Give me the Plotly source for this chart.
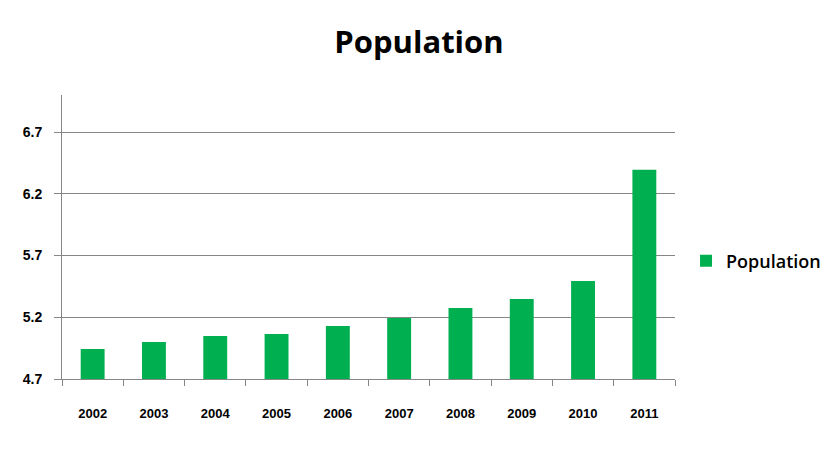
import plotly.graph_objects as go

years = ["2002", "2003", "2004", "2005", "2006", "2007", "2008", "2009", "2010", "2011"]
population = [4.943, 5.0, 5.048, 5.065, 5.13, 5.195, 5.275, 5.348, 5.494, 6.394]

fig = go.Figure()
fig.add_trace(go.Bar(x=years, y=population, name="Population",
                     marker=dict(color="#00B050", line=dict(width=0))))

fig.update_layout(
    width=838, height=451,
    paper_bgcolor="white", plot_bgcolor="white",
    margin=dict(l=54, r=171, t=87, b=80),
    bargap=0.61,
    title=dict(text="<b>Population</b>", x=0.5 - 8 / 838, xref="container", xanchor="center",
               y=1 - 34 / 451, yref="container", yanchor="middle",
               font=dict(family="Open Sans", size=31, color="black")),
    showlegend=True,
    legend=dict(x=1.018, xanchor="left", y=0.415, yanchor="middle",
                font=dict(family="Open Sans", size=18, color="black", weight=600),
                itemwidth=30),
    xaxis=dict(type="category", showline=True, linecolor="#868686", linewidth=1,
               ticks="outside", tickson="boundaries", ticklen=6, tickcolor="#868686",
               tickfont=dict(family="Liberation Sans", size=13, color="black", weight="bold"),
               ticklabelstandoff=22, showgrid=False),
    yaxis=dict(range=[4.7, 7.0], tick0=4.7, dtick=0.5, showline=True, linecolor="#868686",
               linewidth=1, ticks="outside", ticklen=7, tickcolor="#868686",
               showgrid=True, gridcolor="#868686", gridwidth=1, zeroline=False,
               tickformat=".1f",
               tickfont=dict(family="Liberation Sans", size=14, color="black", weight="bold"),
               ticklabelstandoff=9),
)
fig.write_html("out.html")
